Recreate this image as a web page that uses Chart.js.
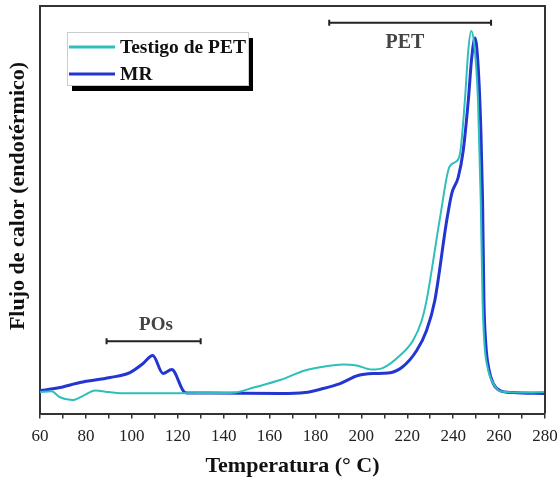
<!DOCTYPE html>
<html>
<head>
<meta charset="utf-8">
<script src="https://cdn.jsdelivr.net/npm/chart.js@4/dist/chart.umd.min.js"></script>
<style>
  html, body { margin: 0; padding: 0; background: #fff; }
  #wrap { width: 559px; height: 477px; }
</style>
</head>
<body>
<div id="wrap"><canvas id="dsc"></canvas></div>
<script>
// Temperaturas (°C) y señal (unidades arbitrarias)
const tempTestigo = [60, 65, 68.7, 74, 79, 84, 90, 95, 110, 130, 140, 145, 153, 164.6, 175.4, 184, 192, 198, 204.5, 209.5, 216.8, 222.5, 226.3, 228.4, 234.3, 238.3, 240.8, 243, 245.1, 246.6, 247.8, 249.1, 250.8, 252.0, 252.8, 253.6, 255, 258, 261, 270, 280];
const flujoTestigo = [21.3, 22.3, 16.3, 13.5, 18, 23, 21.5, 20.3, 20.3, 20.5, 20.5, 21, 26, 33.5, 43, 47, 49, 48, 44, 45.7, 58, 73, 93, 113, 196, 246, 251, 260, 313, 363, 382, 370, 313, 213, 113, 70, 46, 28, 22, 21, 21.5];

const tempMR = [60, 68.7, 77.4, 90.5, 99.2, 104.9, 109.1, 113.6, 117.4, 123.2, 125.4, 134, 164.6, 175.4, 183.3, 190.7, 198.5, 205, 211.6, 217.6, 224.1, 228.4, 232, 237.2, 239.4, 242.2, 244.4, 246.6, 248.1, 249.5, 250.9, 252.1, 252.8, 253.4, 254.2, 255.5, 257.5, 260.4, 266, 280];
const flujoMR = [23, 26, 31, 36, 41, 50, 58, 40, 44, 21, 20.5, 20.5, 20, 21, 25, 30, 38, 40, 40.5, 46, 63, 83, 113, 193, 220, 236, 263, 313, 356, 375, 346, 280, 213, 113, 70, 45, 30, 23, 21, 20];

const xTicks = [60, 80, 100, 120, 140, 160, 180, 200, 220, 240, 260, 280];

// rangos de las zonas (PET y POs)
const zonaPET = [186, 256.5];
const zonaPOs = [89, 130];

const serif = "'Liberation Serif', 'Times New Roman', serif";
const colorTestigo = "#2fbfbb";
const colorMR = "#2336d2";

function pares(xs, ys) {
  return xs.map((x, i) => ({ x: x, y: ys[i] }));
}

// marco, leyenda con sombra y anotaciones
const extras = {
  id: "extras",
  afterDatasetsDraw(chart) {
    const ctx = chart.ctx;
    const a = chart.chartArea;
    const sx = chart.scales.x;
    const sy = chart.scales.y;
    ctx.save();

    // marco superior y derecho
    ctx.strokeStyle = "#333";
    ctx.lineWidth = 2;
    ctx.beginPath();
    ctx.moveTo(a.left, a.top);
    ctx.lineTo(a.right, a.top);
    ctx.lineTo(a.right, a.bottom);
    ctx.stroke();

    // corchetes
    const corchete = (rango, v) => {
      const x1 = sx.getPixelForValue(rango[0]);
      const x2 = sx.getPixelForValue(rango[1]);
      const y = sy.getPixelForValue(v);
      ctx.strokeStyle = "#222";
      ctx.lineWidth = 2;
      ctx.beginPath();
      ctx.moveTo(x1, y); ctx.lineTo(x2, y);
      ctx.moveTo(x1, y - 3); ctx.lineTo(x1, y + 3);
      ctx.moveTo(x2, y - 3); ctx.lineTo(x2, y + 3);
      ctx.stroke();
    };
    corchete(zonaPET, 390.3);
    corchete(zonaPOs, 72.3);

    ctx.fillStyle = "#444";
    ctx.textAlign = "center";
    ctx.textBaseline = "middle";
    ctx.font = "bold 20px " + serif;
    ctx.fillText("PET", sx.getPixelForValue(219), sy.getPixelForValue(370));
    ctx.font = "bold 19px " + serif;
    ctx.fillText("POs", sx.getPixelForValue(110.5), sy.getPixelForValue(88));

    // leyenda
    const lx = 67, ly = 32, lw = 181, lh = 53;
    ctx.fillStyle = "#000";
    ctx.fillRect(lx + 5, ly + 6, lw, lh);
    ctx.fillStyle = "#fff";
    ctx.fillRect(lx, ly, lw, lh);
    ctx.strokeStyle = "#ccc";
    ctx.lineWidth = 1;
    ctx.strokeRect(lx + 0.5, ly + 0.5, lw, lh);

    chart.data.datasets.forEach((ds, i) => {
      const y = ly + 15 + i * 27;
      ctx.strokeStyle = ds.borderColor;
      ctx.lineWidth = 3;
      ctx.beginPath();
      ctx.moveTo(lx + 2, y);
      ctx.lineTo(lx + 48, y);
      ctx.stroke();
      ctx.fillStyle = "#111";
      ctx.font = "bold 19.5px " + serif;
      ctx.textAlign = "left";
      ctx.fillText(ds.label, lx + 53, y + 1);
    });

    // título eje Y
    ctx.translate(18, 196);
    ctx.rotate(-Math.PI / 2);
    ctx.fillStyle = "#111";
    ctx.font = "bold 22px " + serif;
    ctx.textAlign = "center";
    ctx.fillText("Flujo de calor (endotérmico)", 0, 0);
    ctx.restore();
  },
};

new Chart(document.getElementById("dsc"), {
  type: "line",
  data: {
    datasets: [
      {
        label: "Testigo de PET",
        data: pares(tempTestigo, flujoTestigo),
        borderColor: colorTestigo,
        borderWidth: 2,
        pointRadius: 0,
        cubicInterpolationMode: "monotone",
        fill: false,
      },
      {
        label: "MR",
        data: pares(tempMR, flujoMR),
        borderColor: colorMR,
        borderWidth: 3,
        pointRadius: 0,
        cubicInterpolationMode: "monotone",
        fill: false,
      },
    ],
  },
  options: {
    responsive: true,
    maintainAspectRatio: false,
    animation: false,
    layout: { padding: { top: 6, right: 14, left: 40, bottom: 0 } },
    plugins: {
      legend: { display: false },
      tooltip: { enabled: false },
    },
    scales: {
      x: {
        type: "linear",
        min: 60,
        max: 280,
        afterFit: (s) => { s.paddingRight = 0; s.paddingLeft = 0; },
        ticks: {
          stepSize: 10,
          autoSkip: false,
          maxRotation: 0,
          padding: 8,
          color: "#222",
          font: { family: serif, size: 17 },
          callback: (v) => (xTicks.includes(v) ? String(v) : ""),
        },
        grid: {
          drawOnChartArea: false,
          drawTicks: true,
          tickLength: 5,
          color: "#333",
          lineWidth: 1.5,
        },
        border: { display: true, color: "#333", width: 2 },
        title: {
          display: true,
          text: "Temperatura (° C)",
          color: "#111",
          font: { family: serif, size: 22, weight: "bold", lineHeight: 1 },
          padding: { top: 0, bottom: 0 },
        },
      },
      y: {
        min: 0,
        max: 407,
        ticks: { display: false },
        grid: { display: false, drawTicks: false },
        border: { display: true, color: "#333", width: 2 },
      },
    },
  },
  plugins: [extras],
});
</script>
</body>
</html>
